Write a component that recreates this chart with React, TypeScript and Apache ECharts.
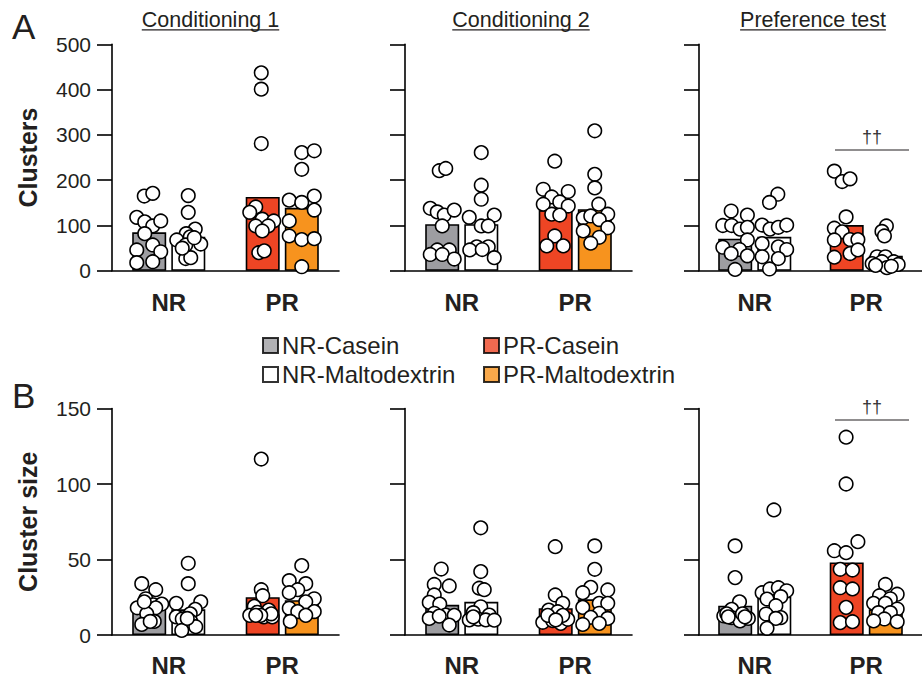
import React, { useEffect, useRef } from 'react';
import * as echarts from 'echarts';

const FONT = "'Liberation Sans', Arial, Helvetica, sans-serif";
const TEXT_COLOR = '#231f20';

const categories = ['NR', 'PR'];
const groupNames = ['NR-Casein', 'NR-Maltodextrin', 'PR-Casein', 'PR-Maltodextrin'];
const groupColors = ['#9d9da1', '#ffffff', '#ee4524', '#f7931e'];
const phaseTitles = ['Conditioning 1', 'Conditioning 2', 'Preference test'];
const rowLabels = ['A', 'B'];
const rowAxisNames = ['Clusters', 'Cluster size'];
const rowMax = [500, 150];
const rowInterval = [100, 50];

// bar heights (group means), order: NR-Casein, NR-Maltodextrin, PR-Casein, PR-Maltodextrin
const clustersMeans = [
  [85, 75, 163, 139],
  [103, 103, 134, 136],
  [71, 75, 101, 33],
];
const sizeMeans = [
  [18, 17, 25, 23],
  [20, 22, 17.7, 23.6],
  [19.4, 25.4, 48, 17],
];

// individual animals
const clustersC1 = [
  [165, 171, 118, 108, 99, 110, 82, 57, 46, 42, 18, 20],
  [166, 129, 92, 82, 68, 75, 59, 57, 27, 29, 73, 50],
  [437, 401, 281, 141, 129, 114, 110, 99, 99, 88, 40, 44],
  [261, 265, 224, 165, 156, 151, 134, 110, 77, 69, 71, 9],
];
const clustersC1Jitter = [
  [-5, 3.5, -12.5, -4.5, 3.5, 11.5, -4.5, 3.5, -12.5, 11.5, -12.5, 3.5],
  [0, 0, 7, -2, -11.5, 2, 12.5, -2.5, -2.5, 2.5, 6, -6],
  [-1.5, -1.5, -1.5, -7, -13, -0.5, 11, -7, 5.5, -0.5, -4, 1.5],
  [0, 12.5, 0, 12.5, -12.5, 0, 12.5, -12.5, -12.5, 0, 12.5, 0],
];
const clustersC2 = [
  [221, 226, 138, 130, 123, 134, 99, 46, 46, 36, 36, 26],
  [261, 189, 158, 118, 123, 99, 99, 53, 53, 46, 47, 29],
  [242, 180, 175, 163, 152, 147, 143, 125, 123, 77, 55, 55],
  [309, 213, 183, 147, 125, 117, 121, 113, 95, 88, 74, 61],
];
const clustersC2Jitter = [
  [-3, 3.5, -12, -5, 2, 12, 0, -5, 7, -12, 0, 12],
  [0, 0, 0, -12, 13, 0, 7, -4.5, 7, -11.5, 1, 13],
  [-1, -12.5, 12.5, -4, 4, -12.5, 12.5, -4, 4, -1, -9, 7.5],
  [0, 0, 0, 4, 13, -11.5, -4, 4.5, 13, -11.5, 4.5, -4],
];
const clustersPT = [
  [132, 123, 100, 100, 92, 96, 68, 52, 47, 38, 33, 3],
  [169, 151, 101, 92, 96, 101, 60, 53, 47, 31, 27, 4],
  [220, 197, 203, 119, 94, 86, 69, 69, 68, 38, 46, 30],
  [99, 87, 77, 31, 31, 20, 16, 20, 14, 7, 12, 10],
];
const clustersPTJitter = [
  [-4.5, 12, -13, -4, 4.5, 12, 12, -13, 4, -4.5, 12, -0.5],
  [4, -4.5, -12, -4, 4.5, 13, -12, 4.5, 13, -12, 4.5, -4.5],
  [-13, -5, 3, -1, -13, -5, 3, 11, -13, 3, 11, -13],
  [1, -3.5, -1, -8.5, 0, 8.5, -13.5, -3.5, 13, 1.5, -10, 6],
];
const sizeC1 = [
  [34, 30, 24, 18, 20, 20.5, 18, 14, 7, 9, 9, 22],
  [47.5, 34, 22, 21, 17, 12, 14, 10.6, 9, 5.5, 3, 11],
  [116.5, 30, 26, 19, 16.5, 13, 15, 12, 12, 14, 13, 13],
  [46, 36, 34, 30, 28, 24, 22, 17.7, 15.5, 15.5, 13, 9],
];
const sizeC1Jitter = [
  [-7.5, 6.5, -3.5, -12, 4, 12.5, 6.5, -2.5, -7.5, 5, 1, -5],
  [0, 0, 12.5, -12, 7, -12, 2, -6, 2.5, 7.5, -6.5, -1],
  [-1.5, -1.5, 0, -8.5, 6, -13, -5.5, 1, 9.5, 8.5, -2, -7],
  [0, -12.5, 4, -4, -12.5, 12.5, 4, -12.5, -4, 12.5, 4, -11.5],
];
const sizeC2 = [
  [43.7, 33.5, 32.5, 26.5, 21.6, 20.5, 14.4, 13.2, 13, 11, 12.5, 6.6],
  [71, 42, 31, 30, 18.7, 14.8, 13.2, 10, 10.5, 10, 9.8, 12],
  [58.5, 26.5, 21, 16.5, 15.4, 8.4, 9.5, 7.7, 10.4, 13, 13, 10],
  [59, 43.5, 31.6, 28, 29.8, 21, 21, 18.3, 14.4, 11.7, 11, 7, 7.7],
];
const sizeC2Jitter = [
  [-1, -8, 7, -8, -13, -2.5, -8, 3.5, 12, -13, -3, 7],
  [-0.5, -0.5, -2, 3, -0.5, -8, 8, -12, -3, 4.5, 13, -8],
  [-0.5, -0.5, 7, -7, 2, -13, -3, 5, 12, -8, 7, 0],
  [0, 0, -4, -12, 13, 4.5, 13, -12, 4.5, -4, 13, -12, 4.5],
];
const sizePT = [
  [59, 38, 22, 17, 12.6, 11.5, 9.3, 11, 14, 14, 12, 12],
  [82.8, 28, 30.5, 31.3, 29.3, 25.4, 23.8, 19.4, 13.9, 11.5, 11, 4.4],
  [131, 100, 61.8, 55.8, 54.5, 43.5, 43, 31.3, 30.5, 18.3, 8.2, 8.8],
  [33.5, 26, 27, 24, 21, 21, 17.2, 14.8, 14.8, 10.6, 9.3, 8.8],
];
const sizePTJitter = [
  [-0.5, -0.5, 4, -4, -12, -4, 4.5, 13, 7, -9, 9.5, -7.5],
  [0, -12, -4, 4.5, 13, 7, -7, 2, -8, 7, 2, -7],
  [-1, -1, 11, -13, -1, -7, 5.5, -7, 5.5, -1, -7, 5.5],
  [0, -6, 12, 5, -12, 0, 12, -7, 5, -1, -12, 12],
];
// significance marks (PR-Casein vs PR-Maltodextrin, preference test)
const sigLabel = '††';

// ---------- layout ----------
const PANEL_LEFT = [112, 405, 699];
const PANEL_W = 227;
const ROW_TOP = [44.3, 408.5];
const ROW_H = 226.5;
const BAR_W = 34;
const BAR_SHIFT = 19.5; // px from category centre to bar centre
const PX_PER_UNIT = PANEL_W / 4;

const panelMeans = [clustersMeans, sizeMeans];
const panelPoints = [
  [clustersC1, clustersC2, clustersPT],
  [sizeC1, sizeC2, sizePT],
];
const panelJitter = [
  [clustersC1Jitter, clustersC2Jitter, clustersPTJitter],
  [sizeC1Jitter, sizeC2Jitter, sizePTJitter],
];

function textWidth(t: string, size: number, weight = 'normal') {
  const c = document.createElement('canvas').getContext('2d');
  if (!c) return t.length * size * 0.5;
  c.font = `${weight} ${size}px ${FONT}`;
  return c.measureText(t).width;
}

export default function App() {
  const ref = useRef<HTMLDivElement>(null);
  useEffect(() => {
    document.body.style.margin = '0';
    if (!ref.current) return;
    const chart = echarts.init(ref.current, undefined, { renderer: 'svg' });

    const grid: any[] = [];
    const xAxis: any[] = [];
    const yAxis: any[] = [];
    const series: any[] = [];

    for (let r = 0; r < 2; r++) {
      for (let c = 0; c < 3; c++) {
        const p = r * 3 + c;
        grid.push({ left: PANEL_LEFT[c], top: ROW_TOP[r], width: PANEL_W, height: ROW_H });
        xAxis.push({
          type: 'category',
          gridIndex: p,
          data: categories,
          boundaryGap: true,
          axisLine: { lineStyle: { color: '#000', width: 1.6 } },
          axisTick: { alignWithLabel: true, length: 14, lineStyle: { color: '#000', width: 1.6 } },
          axisLabel: { fontSize: 24, fontWeight: 'bold', color: TEXT_COLOR, fontFamily: FONT, margin: r === 0 ? 20 : 18 },
          splitLine: { show: false },
        });
        xAxis.push({ type: 'value', gridIndex: p, min: 0, max: 4, show: false });
        yAxis.push({
          type: 'value',
          gridIndex: p,
          min: 0,
          max: rowMax[r],
          interval: rowInterval[r],
          name: c === 0 ? rowAxisNames[r] : '',
          nameLocation: 'middle',
          nameGap: 72,
          nameTextStyle: { fontSize: 25, fontWeight: 'bold', color: TEXT_COLOR, fontFamily: FONT },
          axisLine: { show: true, lineStyle: { color: '#000', width: 1.6 } },
          axisTick: { show: true, length: 15, lineStyle: { color: '#000', width: 1.6 } },
          axisLabel: { show: c === 0, fontSize: 21, color: TEXT_COLOR, fontFamily: FONT, margin: 21 },
          splitLine: { show: false },
        });

        const means = panelMeans[r][c];
        const pts = panelPoints[r][c];
        const jit = panelJitter[r][c];
        // Casein bars (NR, PR) and Maltodextrin bars (NR, PR)
        [0, 1].forEach((k) => {
          series.push({
            type: 'bar',
            name: k === 0 ? 'Casein' : 'Maltodextrin',
            xAxisIndex: 2 * p,
            yAxisIndex: p,
            barWidth: BAR_W,
            barGap: '15%',
            z: 2,
            data: [0, 1].map((cat) => ({
              value: means[cat * 2 + k],
              itemStyle: { color: groupColors[cat * 2 + k], borderColor: '#000', borderWidth: 1.6 },
            })),
            silent: true,
          });
        });
        const scatterData: number[][] = [];
        for (let g = 0; g < 4; g++) {
          const center = g < 2 ? 1 : 3;
          const shift = g % 2 === 0 ? -BAR_SHIFT : BAR_SHIFT;
          pts[g].forEach((v, i) => {
            scatterData.push([center + (shift + jit[g][i]) / PX_PER_UNIT, v]);
          });
        }
        series.push({
          type: 'scatter',
          name: 'animals',
          xAxisIndex: 2 * p + 1,
          yAxisIndex: p,
          symbol: 'circle',
          symbolSize: 13.5,
          z: 3,
          silent: true,
          itemStyle: { color: '#ffffff', borderColor: '#000', borderWidth: 1.6, opacity: 1 },
          data: scatterData,
        });
      }
    }

    // legend-only series
    groupNames.forEach((n, i) => {
      series.push({
        type: 'scatter',
        name: n,
        xAxisIndex: 1,
        yAxisIndex: 0,
        data: [],
        itemStyle: { color: groupColors[i], borderColor: '#000', borderWidth: 1.5 },
      });
    });

    const legendBase = {
      orient: 'vertical',
      top: 333.5,
      icon: 'rect',
      itemWidth: 15,
      itemHeight: 15,
      itemGap: 5,
      padding: 0,
      selectedMode: false,
      textStyle: { fontSize: 24, color: TEXT_COLOR, fontFamily: FONT, padding: [0, 0, 0, -1] },
    };

    const graphic: any[] = [];
    rowLabels.forEach((t, r) => {
      graphic.push({
        type: 'text',
        x: 12,
        y: r === 0 ? 26 : 395.5,
        style: { text: t, fontSize: 35, fontFamily: FONT, fill: TEXT_COLOR, textAlign: 'left', textVerticalAlign: 'middle' },
      });
    });
    const titleCenters = [210.5, 521, 813];
    const TITLE_SIZE = 21.5;
    phaseTitles.forEach((t, c) => {
      const w = textWidth(t, TITLE_SIZE);
      graphic.push({
        type: 'text',
        x: titleCenters[c],
        y: 19.5,
        style: { text: t, fontSize: TITLE_SIZE, fontFamily: FONT, fill: TEXT_COLOR, textAlign: 'center', textVerticalAlign: 'middle' },
      });
      graphic.push({
        type: 'line',
        shape: { x1: titleCenters[c] - w / 2, y1: 29.8, x2: titleCenters[c] + w / 2, y2: 29.8 },
        style: { stroke: TEXT_COLOR, lineWidth: 1.2 },
      });
    });
    const sigY = [150, 420];
    sigY.forEach((y) => {
      graphic.push({
        type: 'line',
        shape: { x1: 835, y1: y, x2: 909, y2: y },
        style: { stroke: TEXT_COLOR, lineWidth: 1.2 },
      });
      graphic.push({
        type: 'text',
        x: 872,
        y: y - 13,
        style: { text: sigLabel, fontSize: 18, fontFamily: FONT, fill: '#333', textAlign: 'center', textVerticalAlign: 'middle' },
      });
    });

    chart.setOption({
      animation: false,
      backgroundColor: '#ffffff',
      textStyle: { fontFamily: FONT },
      grid,
      xAxis,
      yAxis,
      series,
      legend: [
        { ...legendBase, left: 262, data: ['NR-Casein', 'NR-Maltodextrin'] },
        { ...legendBase, left: 483, data: ['PR-Casein', 'PR-Maltodextrin'] },
      ],
      graphic,
    });
    return () => chart.dispose();
  }, []);
  return <div ref={ref} style={{ position: 'absolute', left: 0, top: 0, width: 922, height: 684 }} />;
}
